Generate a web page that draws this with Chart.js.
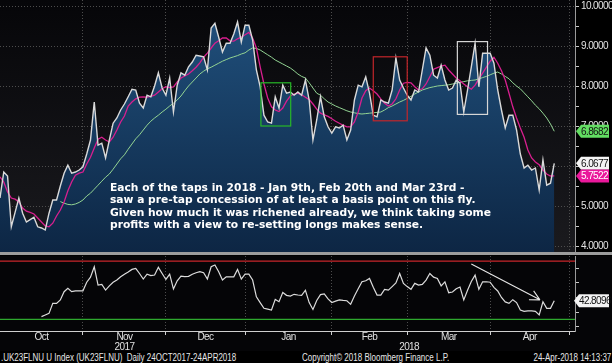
<!DOCTYPE html>
<html>
<head>
<meta charset="utf-8">
<script src="https://cdn.jsdelivr.net/npm/chart.js@4.4.0/dist/chart.umd.min.js"></script>
<style>
  html, body { margin: 0; padding: 0; background: #000; }
  #wrap { position: relative; width: 612px; height: 363px; overflow: hidden; background: #000; }
  #top { position: absolute; left: 0; top: 0; }
  #bottom { position: absolute; left: 0; top: 256px; }
  #sep { position: absolute; left: 0; top: 252px; width: 612px; height: 3px; background: #9c9c9c; }
  #note { position: absolute; left: 110px; top: 182px; color: #fff; font: bold 10.7px 'DejaVu Sans', sans-serif; line-height: 12.3px; white-space: nowrap; }
  .foot { position: absolute; top: 352px; color: #e6e6e6; font: 10px 'Liberation Sans', sans-serif; white-space: nowrap; transform: scaleX(0.8); transform-origin: left center; }
  .foot.r { transform-origin: right center; }
</style>
</head>
<body>
<div id="wrap">
  <canvas id="top" width="612" height="252"></canvas>
  <div id="sep"></div>
  <canvas id="bottom" width="612" height="95"></canvas>
  <div id="note">Each of the taps in 2018 - Jan 9th, Feb 20th and Mar 23rd -<br>saw a pre-tap concession of at least a basis point on this fly.<br>Given how much it was richened already, we think taking some<br>profits with a view to re-setting longs makes sense.</div>
  <div class="foot" style="left:1px">.UK23FLNU U Index (UK23FLNU)&nbsp; Daily 24OCT2017-24APR2018</div>
  <div class="foot" style="left:302px">Copyright&copy; 2018 Bloomberg Finance L.P.</div>
  <div class="foot r" style="right:1px">24-Apr-2018 14:13:37</div>
</div>
<script>
// daily closes of the fly, business days from early Oct 2017 to 24 Apr 2018
const fly = [
  5.2, 5.85, 5.75, 4.48, 4.84, 5.2, 4.82, 4.6, 4.66, 4.72,
  4.48, 4.45, 4.4, 4.82, 5.15, 5.15, 5.5, 5.82, 6.02, 5.82,
  5.85, 5.9, 5.98, 6.3, 6.65, 7.6, 6.52, 6.57, 6.2, 6.65,
  7.07, 7.2, 7.4, 7.55, 7.73, 7.92, 7.9, 7.57, 7.45, 7.77,
  7.73, 8.0, 8.33, 7.95, 7.77, 8.2, 7.35, 8.02, 8.33, 8.27,
  8.48, 8.6, 8.77, 8.75, 8.73, 8.4, 9.45, 9.57, 9.22, 8.85,
  9.07, 9.07, 9.3, 9.6, 9.1, 9.52, 9.52, 9.15, 8.4, 7.98,
  7.27, 7.1, 7.07, 7.73, 7.45, 8.02, 7.82, 7.85, 7.77, 7.85,
  7.77, 8.15, 7.65, 6.65, 7.15, 7.73, 7.23, 6.98, 6.82, 6.98,
  6.95, 7.02, 6.65, 6.9, 7.65, 8.02, 7.98, 8.23, 7.82, 7.27,
  7.23, 7.65, 7.6, 7.57, 7.9, 8.7, 8.15, 7.95, 7.77, 7.65,
  7.9, 7.85, 8.4, 8.95, 8.77, 8.27, 8.2, 8.52, 8.15, 7.9,
  7.95, 8.15, 8.07, 7.35, 7.9, 8.48, 9.07, 7.98, 8.82, 8.82,
  8.82, 8.57, 7.9, 7.4, 6.95, 7.27, 7.27, 6.9, 6.3, 5.95,
  6.02, 5.9, 5.95, 5.4, 6.15, 5.52, 5.57, 6.0677
];
// short moving average (magenta)
const maShort = [
  5.73, 5.6, 5.35, 5.2, 5.17, 5.1, 4.95, 4.87, 4.84, 4.8,
  4.7, 4.6, 4.5, 4.48, 4.57, 4.75, 4.9, 5.1, 5.38, 5.6,
  5.77, 5.82, 5.85, 6.05, 6.22, 6.45, 6.67, 6.72, 6.65, 6.6,
  6.72, 6.9, 7.1, 7.25, 7.5, 7.6, 7.68, 7.72, 7.73, 7.72,
  7.74, 7.77, 7.85, 7.93, 7.98, 7.96, 7.98, 8.1, 8.2, 8.25,
  8.3, 8.38, 8.47, 8.58, 8.72, 8.82, 8.95, 9.07, 9.13, 9.2,
  9.2, 9.13, 9.12, 9.18, 9.22, 9.28, 9.34, 9.2, 8.95, 8.48,
  8.05, 7.7, 7.48, 7.4, 7.36, 7.45, 7.62, 7.75, 7.8, 7.82,
  7.78, 7.72, 7.66, 7.55, 7.42, 7.32, 7.28, 7.24, 7.18, 7.12,
  7.07, 7.02, 6.98, 6.98, 7.1, 7.35, 7.7, 7.88, 7.95, 7.88,
  7.8, 7.68, 7.57, 7.5, 7.55, 7.68, 7.9, 8.07, 8.09, 8.08,
  7.98, 7.9, 7.93, 8.05, 8.23, 8.42, 8.46, 8.5, 8.52, 8.4,
  8.3, 8.2, 8.13, 8.05, 7.98, 7.92, 8.02, 8.18, 8.32, 8.47,
  8.62, 8.72, 8.57, 8.38, 8.15, 7.82, 7.48, 7.2, 6.95, 6.72,
  6.4, 6.2, 6.1, 6.03, 5.9, 5.8, 5.75, 5.7522
];
// long moving average (green)
const maLong = [
  null, null, null, null, null, null, null, null, null, null,
  null, null, null, null, null, null, 5.11, 5.07, 5.04, 5.03,
  5.05, 5.09, 5.15, 5.25, 5.32, 5.42, 5.52, 5.62, 5.72, 5.8,
  5.92, 6.05, 6.18, 6.28, 6.42, 6.55, 6.68, 6.78, 6.9, 7.02,
  7.12, 7.2, 7.27, 7.35, 7.42, 7.5, 7.57, 7.65, 7.75, 7.88,
  8.0, 8.1, 8.2, 8.3, 8.37, 8.43, 8.47, 8.52, 8.57, 8.62,
  8.66, 8.7, 8.73, 8.76, 8.8, 8.83, 8.9, 8.95, 8.94, 8.9,
  8.84, 8.78, 8.72, 8.65, 8.6, 8.55, 8.5, 8.45, 8.38, 8.3,
  8.24, 8.2, 8.08, 7.95, 7.82, 7.77, 7.68, 7.6, 7.55, 7.5,
  7.46, 7.42, 7.38, 7.35, 7.33, 7.31, 7.3, 7.31, 7.32, 7.33,
  7.34, 7.35, 7.4, 7.46, 7.5, 7.55, 7.6, 7.64, 7.69, 7.74,
  7.8, 7.85, 7.9, 7.93, 7.96, 7.98, 8.0, 8.01, 8.02, 8.03,
  8.05, 8.07, 8.09, 8.11, 8.13, 8.14, 8.15, 8.18, 8.21, 8.24,
  8.28, 8.32, 8.35, 8.3, 8.24, 8.18, 8.08, 8.0, 7.93, 7.83,
  7.73, 7.63, 7.52, 7.43, 7.32, 7.2, 7.05, 6.8682
];
// RSI in the lower panel
const rsi = [
  null, null, null, null, null, null, null, null, null, null,
  null, 31.9, 33.0, 34.1, 41, 41, 43.3, 49, 51.3, 49,
  49.6, 49.6, 49.6, 55.5, 59, 66.1, 53.5, 54, 50.1, 53,
  55.5, 57, 59.2, 61, 62.5, 64.3, 65, 61.5, 57.7, 61,
  60, 60.4, 65.7, 61.5, 57.4, 61, 50.8, 56.5, 59.7, 59.4,
  59.5, 61, 62, 62.7, 62, 57.7, 66.1, 67.3, 62.7, 57,
  59.2, 59.2, 59.2, 64.3, 57.7, 61, 61, 57, 45.5, 41.5,
  37.6, 37, 36.4, 43.7, 42.1, 48.5, 46.5, 46, 47.2, 46.7,
  46.5, 50, 41.5, 36.8, 43, 47, 47.5, 44, 41.6, 42.5,
  43.3, 43, 42.8, 40.3, 46, 51, 55.8, 56.5, 58.1, 52,
  46.7, 46.7, 50.6, 50.1, 52.5, 55, 61.5, 54.7, 52.5, 50.6,
  54.7, 53.5, 54, 57, 61.5, 59, 58.1, 53, 55.8, 48.3,
  48.8, 51, 52.2, 43.3, 50, 56, 60.4, 50.6, 55.8, 55.8,
  55.5, 52, 49.5, 45, 42, 41, 43.5, 41.5, 36.4, 35.5,
  35.8, 35.8, 35.5, 33, 42.1, 37.6, 37.6, 42.8096
];

// x axis: day index of each month start, and where the labels sit
const monthStarts = [22, 44, 65, 88, 108, 130, 151];
const monthLabels = ['Oct', 'Nov', 'Dec', 'Jan', 'Feb', 'Mar', 'Apr'];
const monthMids = [11, 33, 54.5, 76.5, 98, 119, 140.5];
const yearLabels = ['2017', '2018'];
const yearMids = [33, 108.5];
const xMax = 152.5;

// y axes
const priceTicks = [4, 5, 6, 7, 8, 9, 10];
const rsiTicks = [40, 60];
const rsiBands = [70, 30];

// tap boxes: day range and value range
const tapBoxes = [
  { from: 69.2, to: 77.1, low: 7.0, high: 8.08, color: '#27b827' },
  { from: 99, to: 108, low: 7.13, high: 8.73, color: '#c3262b' },
  { from: 121.3, to: 129.3, low: 7.29, high: 9.11, color: '#d6d6d6' }
];
// downtrend arrow in the RSI panel: [day, rsi]
const rsiArrow = { from: [125, 68], to: [143.2, 43.4] };

const fontFamily = "'Liberation Sans', sans-serif";
const axisFont = { family: fontFamily, size: 10 };
const gridColor = '#4d4d4d';
const tightText = '-0.6px';

function pts(arr) {
  return arr.map((v, i) => ({ x: i, y: v }));
}

function drawTag(ctx, x, y, text, bg, fg) {
  ctx.save();
  ctx.beginPath();
  ctx.moveTo(x, y);
  ctx.lineTo(x + 5, y - 6.5);
  ctx.lineTo(609, y - 6.5);
  ctx.lineTo(609, y + 6.5);
  ctx.lineTo(x + 5, y + 6.5);
  ctx.closePath();
  ctx.fillStyle = bg;
  ctx.fill();
  ctx.fillStyle = fg;
  ctx.font = '10px ' + fontFamily;
  ctx.letterSpacing = tightText;
  ctx.textBaseline = 'middle';
  ctx.fillText(text, x + 5, y + 0.5);
  ctx.restore();
}

// upper panel: background, tap boxes and value tags
const topPlugin = {
  id: 'topPanel',
  beforeDraw(chart) {
    const { ctx, chartArea: a } = chart;
    ctx.save();
    ctx.fillStyle = '#000';
    ctx.fillRect(0, 0, chart.width, chart.height);
    const g = ctx.createLinearGradient(0, a.top, 0, a.bottom);
    g.addColorStop(0, '#060609');
    g.addColorStop(1, '#1a1a1e');
    ctx.fillStyle = g;
    ctx.fillRect(a.left, a.top, a.right - a.left, a.bottom - a.top);
    ctx.restore();
    ctx.letterSpacing = tightText;
  },
  afterDatasetsDraw(chart) {
    const { ctx, scales: { x, y } } = chart;
    ctx.save();
    ctx.lineWidth = 1.2;
    tapBoxes.forEach(b => {
      const x0 = x.getPixelForValue(b.from), x1 = x.getPixelForValue(b.to);
      const y0 = y.getPixelForValue(b.high), y1 = y.getPixelForValue(b.low);
      ctx.strokeStyle = b.color;
      ctx.strokeRect(x0, y0, x1 - x0, y1 - y0);
    });
    ctx.restore();
  },
  afterDraw(chart) {
    const { ctx, chartArea: a, scales: { y } } = chart;
    const last = arr => arr[arr.length - 1];
    drawTag(ctx, a.right + 1, y.getPixelForValue(last(maLong)), last(maLong).toFixed(4), '#62dd62', '#111');
    drawTag(ctx, a.right + 1, y.getPixelForValue(last(fly)), last(fly).toFixed(4), '#f4f4f4', '#111');
    drawTag(ctx, a.right + 1, y.getPixelForValue(last(maShort)), last(maShort).toFixed(4), '#ea189b', '#fff');
  }
};

new Chart(document.getElementById('top'), {
  type: 'line',
  data: {
    datasets: [
      {
        label: 'UK23FLNU',
        data: pts(fly),
        borderColor: '#dadada',
        borderWidth: 1.4,
        pointRadius: 0,
        fill: 'start',
        backgroundColor: (c) => {
          const a = c.chart.chartArea;
          if (!a) return 'rgba(20,60,100,1)';
          const g = c.chart.ctx.createLinearGradient(0, a.top, 0, a.bottom);
          g.addColorStop(0, '#21527f');
          g.addColorStop(1, '#0d2644');
          return g;
        }
      },
      { label: 'MA short', data: pts(maShort), borderColor: '#d81f8f', borderWidth: 1.3, pointRadius: 0, fill: false },
      { label: 'MA long', data: pts(maLong), borderColor: '#93d493', borderWidth: 1, pointRadius: 0, fill: false }
    ]
  },
  options: {
    responsive: false,
    animation: false,
    devicePixelRatio: 1,
    layout: { padding: 0 },
    plugins: {
      legend: { display: false },
      tooltip: { enabled: false },
      filler: { drawTime: 'beforeDatasetsDraw' }
    },
    scales: {
      x: {
        type: 'linear', min: 0, max: xMax,
        afterBuildTicks: s => { s.ticks = monthStarts.map(v => ({ value: v })); },
        ticks: { display: false },
        grid: { color: gridColor, drawTicks: false },
        border: { display: false, dash: [1, 2] },
        afterFit: s => { s.height = 0; s.paddingLeft = 0; s.paddingRight = 0; }
      },
      y: {
        position: 'right', min: 3.85, max: 10.15,
        afterBuildTicks: s => {
          const t = [];
          priceTicks.forEach((v, i) => {
            t.push({ value: v });
            if (i < priceTicks.length - 1) t.push({ value: (v + priceTicks[i + 1]) / 2 });
          });
          s.ticks = t;
        },
        ticks: {
          color: '#e2e2e2', font: axisFont, padding: 2,
          callback: v => priceTicks.includes(v) ? v.toFixed(4) : ''
        },
        grid: {
          color: c => priceTicks.includes(c.tick.value) ? gridColor : 'transparent',
          tickColor: '#c8c8c8', tickLength: 4, tickBorderDash: []
        },
        border: { display: true, color: '#9a9a9a', dash: [1, 2] },
        afterFit: s => { s.width = 37; s.paddingTop = 0; s.paddingBottom = 0; }
      }
    }
  },
  plugins: [topPlugin]
});

// lower panel: background, 70/30 bands, arrow and tag
const rsiPlugin = {
  id: 'rsiPanel',
  beforeDraw(chart) {
    const { ctx } = chart;
    ctx.save();
    ctx.fillStyle = '#050507';
    ctx.fillRect(0, 0, chart.width, chart.height);
    ctx.restore();
    ctx.letterSpacing = tightText;
  },
  beforeDatasetsDraw(chart) {
    const { ctx, chartArea: a, scales: { y } } = chart;
    ctx.save();
    ctx.lineWidth = 1.2;
    ['#c8262b', '#2ea82e'].forEach((col, i) => {
      const py = y.getPixelForValue(rsiBands[i]);
      ctx.strokeStyle = col;
      ctx.beginPath();
      ctx.moveTo(a.left, py);
      ctx.lineTo(a.right, py);
      ctx.stroke();
    });
    ctx.restore();
  },
  afterDatasetsDraw(chart) {
    const { ctx, scales: { x, y } } = chart;
    const x0 = x.getPixelForValue(rsiArrow.from[0]), y0 = y.getPixelForValue(rsiArrow.from[1]);
    const x1 = x.getPixelForValue(rsiArrow.to[0]), y1 = y.getPixelForValue(rsiArrow.to[1]);
    const ang = Math.atan2(y1 - y0, x1 - x0);
    ctx.save();
    ctx.strokeStyle = '#e6e6e6';
    ctx.lineWidth = 1.1;
    ctx.beginPath();
    ctx.moveTo(x0, y0);
    ctx.lineTo(x1, y1);
    [ang + Math.PI - 0.48, ang + Math.PI + 0.48].forEach(t => {
      ctx.moveTo(x1, y1);
      ctx.lineTo(x1 + 11 * Math.cos(t), y1 + 11 * Math.sin(t));
    });
    ctx.stroke();
    ctx.restore();
  },
  afterDraw(chart) {
    const { ctx, chartArea: a, scales: { y } } = chart;
    const v = rsi[rsi.length - 1];
    drawTag(ctx, a.right - 1, y.getPixelForValue(v), v.toFixed(4), '#f4f4f4', '#111');
  }
};

const sharedX = { type: 'linear', min: 0, max: xMax, position: 'bottom' };

new Chart(document.getElementById('bottom'), {
  type: 'line',
  data: {
    datasets: [
      { label: 'RSI', data: pts(rsi), borderColor: '#dcdcdc', borderWidth: 1.2, pointRadius: 0, fill: false }
    ]
  },
  options: {
    responsive: false,
    animation: false,
    devicePixelRatio: 1,
    layout: { padding: 0 },
    plugins: { legend: { display: false }, tooltip: { enabled: false } },
    scales: {
      x: Object.assign({}, sharedX, {
        weight: 0,
        afterBuildTicks: s => { s.ticks = monthStarts.map(v => ({ value: v })); },
        ticks: { display: false },
        grid: { color: gridColor, drawTicks: true, tickLength: 4, tickColor: '#cfcfcf', tickBorderDash: [] },
        border: { display: true, color: '#cfcfcf', width: 1, dash: [1, 2] },
        afterFit: s => { s.height = 0; s.paddingLeft = 0; s.paddingRight = 0; }
      }),
      xm: Object.assign({}, sharedX, {
        weight: 1,
        afterBuildTicks: s => { s.ticks = monthMids.map(v => ({ value: v })); },
        ticks: { color: '#e0e0e0', font: axisFont, padding: 0, maxRotation: 0, autoSkip: false, callback: (v, i) => monthLabels[i] },
        grid: { display: false, drawTicks: false },
        border: { display: false },
        afterFit: s => { s.height = 10; s.paddingLeft = 0; s.paddingRight = 0; }
      }),
      xy: Object.assign({}, sharedX, {
        weight: 2,
        afterBuildTicks: s => { s.ticks = yearMids.map(v => ({ value: v })); },
        ticks: { color: '#e0e0e0', font: axisFont, padding: 0, maxRotation: 0, autoSkip: false, callback: (v, i) => yearLabels[i] },
        grid: { display: false, drawTicks: false },
        border: { display: false },
        afterFit: s => { s.height = 10; s.paddingLeft = 0; s.paddingRight = 0; }
      }),
      y: {
        position: 'right', min: 22, max: 73.5,
        afterBuildTicks: s => {
          const t = [];
          for (let v = 25; v <= 70; v += 5) t.push({ value: v });
          s.ticks = t;
        },
        ticks: {
          color: '#e2e2e2', font: axisFont, padding: 3,
          callback: v => rsiTicks.includes(v) ? String(v) : ''
        },
        grid: {
          color: c => (c.tick.value === 40 || c.tick.value === 50) ? gridColor : 'transparent',
          tickColor: '#c8c8c8', tickLength: 4, tickBorderDash: []
        },
        border: { display: true, color: '#9a9a9a', dash: [1, 2] },
        afterFit: s => { s.width = 37; s.paddingTop = 0; s.paddingBottom = 0; }
      }
    }
  },
  plugins: [rsiPlugin]
});
</script>
</body>
</html>
